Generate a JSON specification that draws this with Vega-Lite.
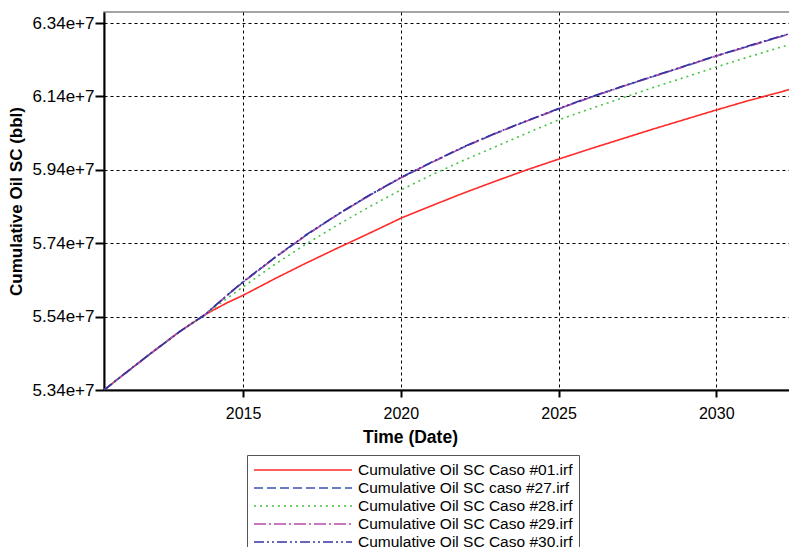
{
  "$schema": "https://vega.github.io/schema/vega-lite/v6.json",
  "autosize": "none",
  "width": 696,
  "height": 378,
  "padding": {"left": 104, "top": 12, "right": 0, "bottom": 157},
  "background": "white",
  "config": {
    "font": "Liberation Sans",
    "view": {"stroke": "#888888", "strokeWidth": 1.5}
  },
  "data": {"values": [
    {"s": "Cumulative Oil SC Caso #01.irf", "t": "2010-08-05", "v": 53400000},
    {"s": "Cumulative Oil SC Caso #01.irf", "t": "2011-01-01", "v": 53680000},
    {"s": "Cumulative Oil SC Caso #01.irf", "t": "2012-01-01", "v": 54350000},
    {"s": "Cumulative Oil SC Caso #01.irf", "t": "2013-01-01", "v": 55000000},
    {"s": "Cumulative Oil SC Caso #01.irf", "t": "2013-10-15", "v": 55450000},
    {"s": "Cumulative Oil SC Caso #01.irf", "t": "2014-07-01", "v": 55780000},
    {"s": "Cumulative Oil SC Caso #01.irf", "t": "2015-01-01", "v": 55980000},
    {"s": "Cumulative Oil SC Caso #01.irf", "t": "2016-01-01", "v": 56430000},
    {"s": "Cumulative Oil SC Caso #01.irf", "t": "2017-01-01", "v": 56860000},
    {"s": "Cumulative Oil SC Caso #01.irf", "t": "2018-01-01", "v": 57270000},
    {"s": "Cumulative Oil SC Caso #01.irf", "t": "2019-01-01", "v": 57670000},
    {"s": "Cumulative Oil SC Caso #01.irf", "t": "2020-01-01", "v": 58080000},
    {"s": "Cumulative Oil SC Caso #01.irf", "t": "2021-01-01", "v": 58430000},
    {"s": "Cumulative Oil SC Caso #01.irf", "t": "2022-01-01", "v": 58770000},
    {"s": "Cumulative Oil SC Caso #01.irf", "t": "2023-01-01", "v": 59090000},
    {"s": "Cumulative Oil SC Caso #01.irf", "t": "2024-01-01", "v": 59400000},
    {"s": "Cumulative Oil SC Caso #01.irf", "t": "2025-01-01", "v": 59690000},
    {"s": "Cumulative Oil SC Caso #01.irf", "t": "2026-01-01", "v": 59970000},
    {"s": "Cumulative Oil SC Caso #01.irf", "t": "2027-01-01", "v": 60240000},
    {"s": "Cumulative Oil SC Caso #01.irf", "t": "2028-01-01", "v": 60510000},
    {"s": "Cumulative Oil SC Caso #01.irf", "t": "2029-01-01", "v": 60770000},
    {"s": "Cumulative Oil SC Caso #01.irf", "t": "2030-01-01", "v": 61030000},
    {"s": "Cumulative Oil SC Caso #01.irf", "t": "2031-01-01", "v": 61280000},
    {"s": "Cumulative Oil SC Caso #01.irf", "t": "2032-01-01", "v": 61510000},
    {"s": "Cumulative Oil SC Caso #01.irf", "t": "2032-05-01", "v": 61590000},

    {"s": "Cumulative Oil SC caso #27.irf", "t": "2010-08-05", "v": 53400000},
    {"s": "Cumulative Oil SC caso #27.irf", "t": "2011-01-01", "v": 53680000},
    {"s": "Cumulative Oil SC caso #27.irf", "t": "2012-01-01", "v": 54350000},
    {"s": "Cumulative Oil SC caso #27.irf", "t": "2013-01-01", "v": 55000000},
    {"s": "Cumulative Oil SC caso #27.irf", "t": "2013-10-15", "v": 55450000},
    {"s": "Cumulative Oil SC caso #27.irf", "t": "2014-07-01", "v": 55980000},
    {"s": "Cumulative Oil SC caso #27.irf", "t": "2015-01-01", "v": 56340000},
    {"s": "Cumulative Oil SC caso #27.irf", "t": "2016-01-01", "v": 57000000},
    {"s": "Cumulative Oil SC caso #27.irf", "t": "2017-01-01", "v": 57620000},
    {"s": "Cumulative Oil SC caso #27.irf", "t": "2018-01-01", "v": 58180000},
    {"s": "Cumulative Oil SC caso #27.irf", "t": "2019-01-01", "v": 58700000},
    {"s": "Cumulative Oil SC caso #27.irf", "t": "2020-01-01", "v": 59180000},
    {"s": "Cumulative Oil SC caso #27.irf", "t": "2021-01-01", "v": 59610000},
    {"s": "Cumulative Oil SC caso #27.irf", "t": "2022-01-01", "v": 60020000},
    {"s": "Cumulative Oil SC caso #27.irf", "t": "2023-01-01", "v": 60390000},
    {"s": "Cumulative Oil SC caso #27.irf", "t": "2024-01-01", "v": 60730000},
    {"s": "Cumulative Oil SC caso #27.irf", "t": "2025-01-01", "v": 61060000},
    {"s": "Cumulative Oil SC caso #27.irf", "t": "2026-01-01", "v": 61370000},
    {"s": "Cumulative Oil SC caso #27.irf", "t": "2027-01-01", "v": 61660000},
    {"s": "Cumulative Oil SC caso #27.irf", "t": "2028-01-01", "v": 61940000},
    {"s": "Cumulative Oil SC caso #27.irf", "t": "2029-01-01", "v": 62220000},
    {"s": "Cumulative Oil SC caso #27.irf", "t": "2030-01-01", "v": 62500000},
    {"s": "Cumulative Oil SC caso #27.irf", "t": "2031-01-01", "v": 62760000},
    {"s": "Cumulative Oil SC caso #27.irf", "t": "2032-01-01", "v": 63020000},
    {"s": "Cumulative Oil SC caso #27.irf", "t": "2032-05-01", "v": 63100000},

    {"s": "Cumulative Oil SC Caso #28.irf", "t": "2010-08-05", "v": 53400000},
    {"s": "Cumulative Oil SC Caso #28.irf", "t": "2011-01-01", "v": 53680000},
    {"s": "Cumulative Oil SC Caso #28.irf", "t": "2012-01-01", "v": 54350000},
    {"s": "Cumulative Oil SC Caso #28.irf", "t": "2013-01-01", "v": 55000000},
    {"s": "Cumulative Oil SC Caso #28.irf", "t": "2013-10-15", "v": 55450000},
    {"s": "Cumulative Oil SC Caso #28.irf", "t": "2014-07-01", "v": 55900000},
    {"s": "Cumulative Oil SC Caso #28.irf", "t": "2015-01-01", "v": 56210000},
    {"s": "Cumulative Oil SC Caso #28.irf", "t": "2016-01-01", "v": 56820000},
    {"s": "Cumulative Oil SC Caso #28.irf", "t": "2017-01-01", "v": 57380000},
    {"s": "Cumulative Oil SC Caso #28.irf", "t": "2018-01-01", "v": 57900000},
    {"s": "Cumulative Oil SC Caso #28.irf", "t": "2019-01-01", "v": 58390000},
    {"s": "Cumulative Oil SC Caso #28.irf", "t": "2020-01-01", "v": 58850000},
    {"s": "Cumulative Oil SC Caso #28.irf", "t": "2021-01-01", "v": 59270000},
    {"s": "Cumulative Oil SC Caso #28.irf", "t": "2022-01-01", "v": 59660000},
    {"s": "Cumulative Oil SC Caso #28.irf", "t": "2023-01-01", "v": 60030000},
    {"s": "Cumulative Oil SC Caso #28.irf", "t": "2024-01-01", "v": 60400000},
    {"s": "Cumulative Oil SC Caso #28.irf", "t": "2025-01-01", "v": 60760000},
    {"s": "Cumulative Oil SC Caso #28.irf", "t": "2026-01-01", "v": 61060000},
    {"s": "Cumulative Oil SC Caso #28.irf", "t": "2027-01-01", "v": 61350000},
    {"s": "Cumulative Oil SC Caso #28.irf", "t": "2028-01-01", "v": 61640000},
    {"s": "Cumulative Oil SC Caso #28.irf", "t": "2029-01-01", "v": 61920000},
    {"s": "Cumulative Oil SC Caso #28.irf", "t": "2030-01-01", "v": 62200000},
    {"s": "Cumulative Oil SC Caso #28.irf", "t": "2031-01-01", "v": 62470000},
    {"s": "Cumulative Oil SC Caso #28.irf", "t": "2032-01-01", "v": 62730000},
    {"s": "Cumulative Oil SC Caso #28.irf", "t": "2032-05-01", "v": 62810000},

    {"s": "Cumulative Oil SC Caso #29.irf", "t": "2010-08-05", "v": 53400000},
    {"s": "Cumulative Oil SC Caso #29.irf", "t": "2011-01-01", "v": 53680000},
    {"s": "Cumulative Oil SC Caso #29.irf", "t": "2012-01-01", "v": 54350000},
    {"s": "Cumulative Oil SC Caso #29.irf", "t": "2013-01-01", "v": 55000000},
    {"s": "Cumulative Oil SC Caso #29.irf", "t": "2013-10-15", "v": 55450000},
    {"s": "Cumulative Oil SC Caso #29.irf", "t": "2014-07-01", "v": 55980000},
    {"s": "Cumulative Oil SC Caso #29.irf", "t": "2015-01-01", "v": 56340000},
    {"s": "Cumulative Oil SC Caso #29.irf", "t": "2016-01-01", "v": 57000000},
    {"s": "Cumulative Oil SC Caso #29.irf", "t": "2017-01-01", "v": 57620000},
    {"s": "Cumulative Oil SC Caso #29.irf", "t": "2018-01-01", "v": 58180000},
    {"s": "Cumulative Oil SC Caso #29.irf", "t": "2019-01-01", "v": 58700000},
    {"s": "Cumulative Oil SC Caso #29.irf", "t": "2020-01-01", "v": 59180000},
    {"s": "Cumulative Oil SC Caso #29.irf", "t": "2021-01-01", "v": 59610000},
    {"s": "Cumulative Oil SC Caso #29.irf", "t": "2022-01-01", "v": 60020000},
    {"s": "Cumulative Oil SC Caso #29.irf", "t": "2023-01-01", "v": 60390000},
    {"s": "Cumulative Oil SC Caso #29.irf", "t": "2024-01-01", "v": 60730000},
    {"s": "Cumulative Oil SC Caso #29.irf", "t": "2025-01-01", "v": 61060000},
    {"s": "Cumulative Oil SC Caso #29.irf", "t": "2026-01-01", "v": 61370000},
    {"s": "Cumulative Oil SC Caso #29.irf", "t": "2027-01-01", "v": 61660000},
    {"s": "Cumulative Oil SC Caso #29.irf", "t": "2028-01-01", "v": 61940000},
    {"s": "Cumulative Oil SC Caso #29.irf", "t": "2029-01-01", "v": 62220000},
    {"s": "Cumulative Oil SC Caso #29.irf", "t": "2030-01-01", "v": 62500000},
    {"s": "Cumulative Oil SC Caso #29.irf", "t": "2031-01-01", "v": 62760000},
    {"s": "Cumulative Oil SC Caso #29.irf", "t": "2032-01-01", "v": 63020000},
    {"s": "Cumulative Oil SC Caso #29.irf", "t": "2032-05-01", "v": 63100000},

    {"s": "Cumulative Oil SC Caso #30.irf", "t": "2010-08-05", "v": 53400000},
    {"s": "Cumulative Oil SC Caso #30.irf", "t": "2011-01-01", "v": 53680000},
    {"s": "Cumulative Oil SC Caso #30.irf", "t": "2012-01-01", "v": 54350000},
    {"s": "Cumulative Oil SC Caso #30.irf", "t": "2013-01-01", "v": 55000000},
    {"s": "Cumulative Oil SC Caso #30.irf", "t": "2013-10-15", "v": 55450000},
    {"s": "Cumulative Oil SC Caso #30.irf", "t": "2014-07-01", "v": 55990000},
    {"s": "Cumulative Oil SC Caso #30.irf", "t": "2015-01-01", "v": 56350000},
    {"s": "Cumulative Oil SC Caso #30.irf", "t": "2016-01-01", "v": 57010000},
    {"s": "Cumulative Oil SC Caso #30.irf", "t": "2017-01-01", "v": 57630000},
    {"s": "Cumulative Oil SC Caso #30.irf", "t": "2018-01-01", "v": 58190000},
    {"s": "Cumulative Oil SC Caso #30.irf", "t": "2019-01-01", "v": 58710000},
    {"s": "Cumulative Oil SC Caso #30.irf", "t": "2020-01-01", "v": 59190000},
    {"s": "Cumulative Oil SC Caso #30.irf", "t": "2021-01-01", "v": 59620000},
    {"s": "Cumulative Oil SC Caso #30.irf", "t": "2022-01-01", "v": 60030000},
    {"s": "Cumulative Oil SC Caso #30.irf", "t": "2023-01-01", "v": 60400000},
    {"s": "Cumulative Oil SC Caso #30.irf", "t": "2024-01-01", "v": 60740000},
    {"s": "Cumulative Oil SC Caso #30.irf", "t": "2025-01-01", "v": 61070000},
    {"s": "Cumulative Oil SC Caso #30.irf", "t": "2026-01-01", "v": 61380000},
    {"s": "Cumulative Oil SC Caso #30.irf", "t": "2027-01-01", "v": 61670000},
    {"s": "Cumulative Oil SC Caso #30.irf", "t": "2028-01-01", "v": 61950000},
    {"s": "Cumulative Oil SC Caso #30.irf", "t": "2029-01-01", "v": 62230000},
    {"s": "Cumulative Oil SC Caso #30.irf", "t": "2030-01-01", "v": 62510000},
    {"s": "Cumulative Oil SC Caso #30.irf", "t": "2031-01-01", "v": 62770000},
    {"s": "Cumulative Oil SC Caso #30.irf", "t": "2032-01-01", "v": 63030000},
    {"s": "Cumulative Oil SC Caso #30.irf", "t": "2032-05-01", "v": 63110000}
  ]},
  "mark": {"type": "line", "strokeWidth": 1.6, "clip": true},
  "encoding": {
    "x": {
      "field": "t", "type": "temporal",
      "scale": {"domain": ["2010-08-04", "2032-08-28"]},
      "axis": {
        "title": "Time (Date)", "titleFont": "Liberation Sans", "titleFontSize": 17.5, "titleFontWeight": "bold",
        "titleColor": "black", "titlePadding": 7, "titleX": 306, "titleAlign": "center", "titleAnchor": null,
        "values": [{"year": 2015}, {"year": 2020}, {"year": 2025}, {"year": 2030}],
        "format": "%Y", "labelFontSize": 16, "labelColor": "black", "labelPadding": 8,
        "tickColor": "black", "tickSize": 7, "tickWidth": 2,
        "domainColor": "black", "domainWidth": 2,
        "grid": true, "gridColor": "black", "gridDash": [3, 3], "gridWidth": 1
      }
    },
    "y": {
      "field": "v", "type": "quantitative",
      "scale": {"domain": [53400000, 63700000], "nice": false, "zero": false},
      "axis": {
        "title": "Cumulative Oil SC (bbl)", "titleFont": "Liberation Sans", "titleFontSize": 17, "titleFontWeight": "bold",
        "titleColor": "black", "titlePadding": 7,
        "values": [53400000, 55400000, 57400000, 59400000, 61400000, 63400000],
        "format": ".2e", "labelFontSize": 17, "labelColor": "black", "labelPadding": 1,
        "tickColor": "black", "tickSize": 9, "tickWidth": 2,
        "domainColor": "black", "domainWidth": 2,
        "grid": true, "gridColor": "black", "gridDash": [3, 3], "gridWidth": 1
      }
    },
    "color": {
      "field": "s", "type": "nominal",
      "scale": {
        "domain": ["Cumulative Oil SC Caso #01.irf", "Cumulative Oil SC caso #27.irf", "Cumulative Oil SC Caso #28.irf", "Cumulative Oil SC Caso #29.irf", "Cumulative Oil SC Caso #30.irf"],
        "range": ["#ff2a2a", "#3a52b0", "#44c444", "#b84aa6", "#3434a2"]
      },
      "legend": {
        "title": null, "orient": "none", "legendX": 143, "legendY": 443,
        "symbolType": "M-1,0H11.25", "symbolSize": 256, "symbolStrokeWidth": 1.6,
        "labelFontSize": 15.5, "labelColor": "black", "labelFont": "Liberation Sans", "labelOffset": 87,
        "rowPadding": -2, "padding": 6, "strokeColor": "#555555", "fillColor": "white", "labelLimit": 400
      }
    },
    "strokeDash": {
      "field": "s", "type": "nominal",
      "scale": {
        "domain": ["Cumulative Oil SC Caso #01.irf", "Cumulative Oil SC caso #27.irf", "Cumulative Oil SC Caso #28.irf", "Cumulative Oil SC Caso #29.irf", "Cumulative Oil SC Caso #30.irf"],
        "range": [[1, 0], [9, 4], [2, 4], [12, 3, 2, 3], [10, 3, 2, 3, 2, 3]]
      },
      "legend": {
        "title": null, "orient": "none", "legendX": 143, "legendY": 443,
        "symbolType": "M-1,0H11.25", "symbolSize": 256, "symbolStrokeWidth": 1.6,
        "labelFontSize": 15.5, "labelColor": "black", "labelFont": "Liberation Sans", "labelOffset": 87,
        "rowPadding": -2, "padding": 6, "strokeColor": "#555555", "fillColor": "white", "labelLimit": 400
      }
    }
  }
}
